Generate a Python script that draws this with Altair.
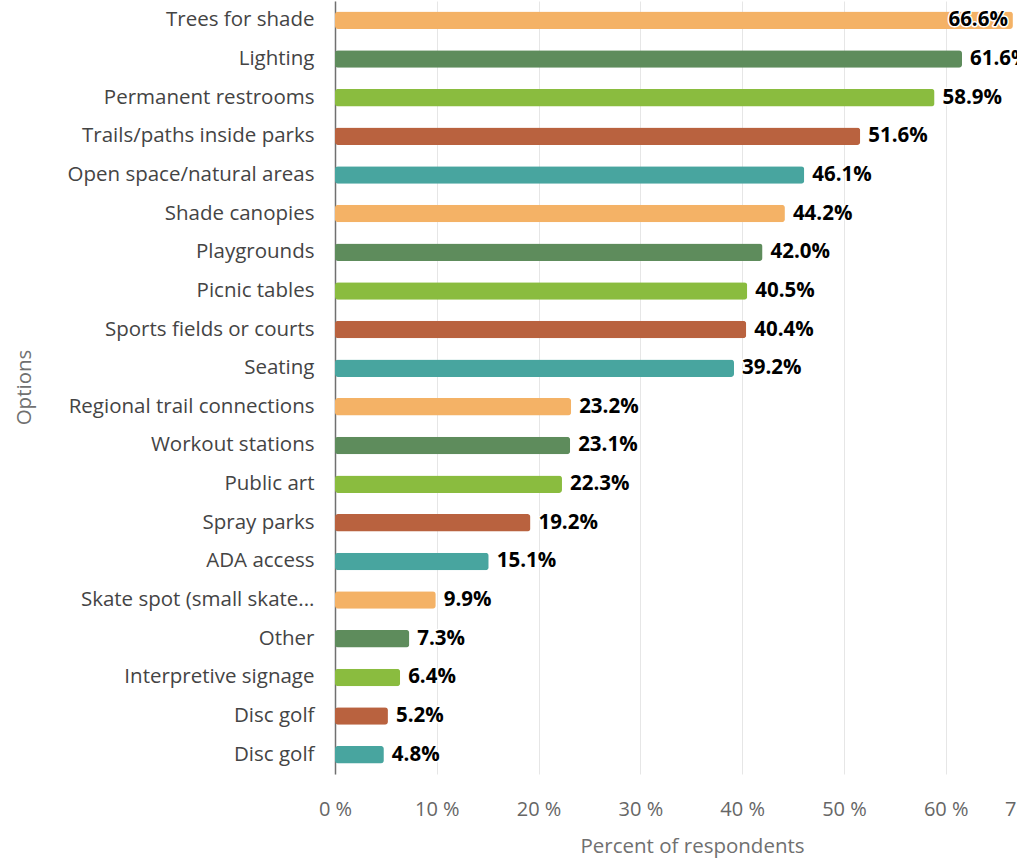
import altair as alt
import pandas as pd

options = ["Trees for shade", "Lighting", "Permanent restrooms", "Trails/paths inside parks",
           "Open space/natural areas", "Shade canopies", "Playgrounds", "Picnic tables",
           "Sports fields or courts", "Seating", "Regional trail connections", "Workout stations",
           "Public art", "Spray parks", "ADA access", "Skate spot (small skate...", "Other",
           "Interpretive signage", "Disc golf", "Disc golf"]
values = [66.6, 61.6, 58.9, 51.6, 46.1, 44.2, 42.0, 40.5, 40.4, 39.2,
          23.2, 23.1, 22.3, 19.2, 15.1, 9.9, 7.3, 6.4, 5.2, 4.8]
palette = ["#F4B266", "#5E8C5C", "#8ABC3F", "#B9623F", "#48A59F"]
tick_values = [0, 10, 20, 30, 40, 50, 60, 70]

df = pd.DataFrame({
    "key": [f"{i:02d}|{o}" for i, o in enumerate(options)],
    "pct": values,
    "color": [palette[i % len(palette)] for i in range(len(options))],
})

FONT = "Open Sans"
FS = 20

x_enc = alt.X(
    "pct:Q",
    scale=alt.Scale(domain=[0, 70], range=[0, 712.5], nice=False, zero=True),
    axis=alt.Axis(
        values=tick_values,
        labelExpr="datum.value + ' %'",
        title="Percent of respondents",
        titleFont=FONT, titleFontSize=20.5, titleFontWeight="normal", titleColor="#707070",
        titleX=357, titleY=78, titleBaseline="alphabetic",
        labelFont=FONT, labelFontSize=FS, labelColor="#666666",
        labelPadding=25,
        labelAlign={"condition": {"test": "datum.value == 70", "value": "left"}, "value": "center"},
        labelOffset={"condition": {"test": "datum.value == 70", "value": -43}, "value": 0},
        domain=False, ticks=False,
        grid=True, gridColor="#E6E6E6", gridWidth=1,
    ),
)

y_enc = alt.Y(
    "key:N",
    sort="ascending",
    axis=alt.Axis(
        labelExpr="split(datum.label, '|')[1]",
        title="Options",
        titleFont=FONT, titleFontSize=20.5, titleFontWeight="normal", titleColor="#707070",
        titleX=-301, titleY=386,
        labelFont=FONT, labelFontSize=20.5, labelColor="#444444",
        labelPadding=21, labelLimit=400,
        ticks=False, domain=True, domainColor="#707070", domainWidth=1.5,
        grid=False,
    ),
)

base = alt.Chart(df)

bars = base.mark_bar(size=17.5, cornerRadius=3).encode(
    x=x_enc,
    y=y_enc,
    color=alt.Color("color:N", scale=None),
)

lab = base.transform_calculate(label="format(datum.pct, '.1f') + '%'")


def label_layer(test, align, dx, halo):
    props = dict(align=align, baseline="middle", dx=dx, font=FONT, fontSize=20.5,
                 fontWeight="bold")
    if halo:
        props.update(fill="white", stroke="white", strokeWidth=3, strokeJoin="round")
    else:
        props.update(fill="#000000")
    return lab.transform_filter(test).mark_text(**props).encode(
        x="pct:Q", y=alt.Y("key:N", sort="ascending"), text="label:N"
    )


layers = [
    bars,
    label_layer("datum.pct < 65", "left", 8, True),
    label_layer("datum.pct < 65", "left", 8, False),
    label_layer("datum.pct >= 65", "right", -5, True),
    label_layer("datum.pct >= 65", "right", -5, False),
]

chart = alt.layer(*layers).properties(
    width=682,
    height=773,
    autosize=alt.AutoSizeParams(type="none"),
    padding={"left": 335, "top": 1, "right": 0, "bottom": 85},
    background="white",
).configure_view(stroke=None)

chart.save("out.html", embed_options={"renderer": "svg", "actions": False})
